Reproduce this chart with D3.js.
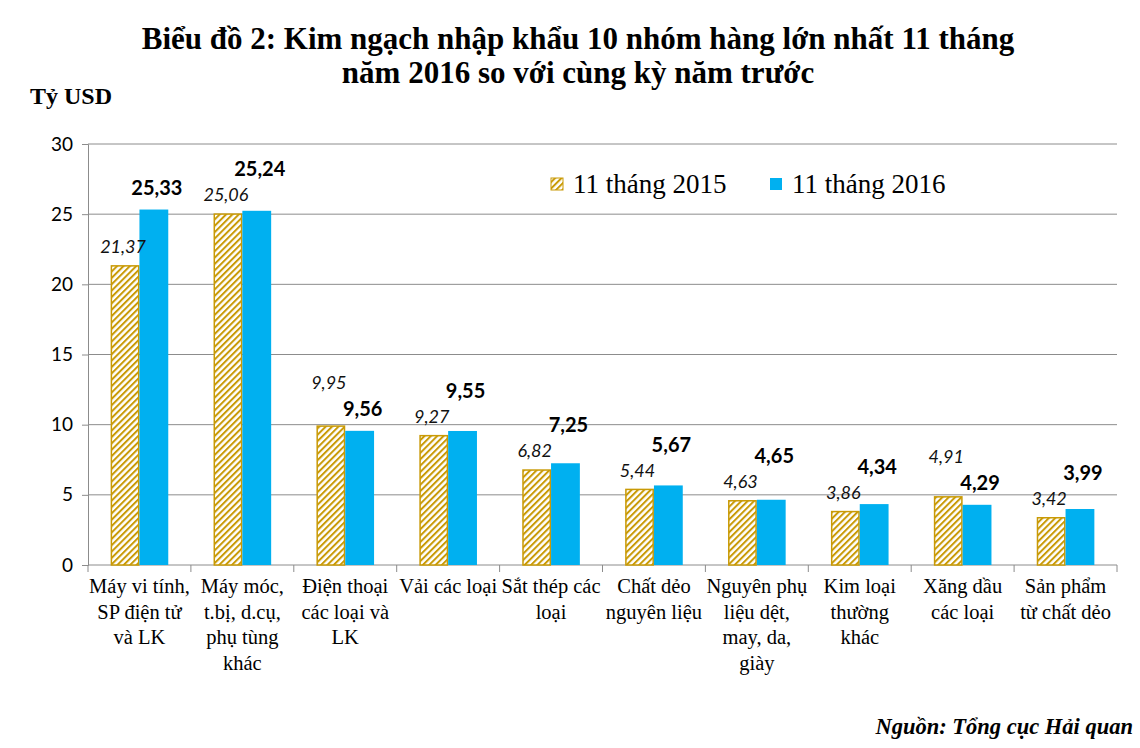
<!DOCTYPE html>
<html><head><meta charset="utf-8">
<script src="https://cdn.jsdelivr.net/npm/d3@7"></script>
<style>body{margin:0;background:#fff}svg{display:block}</style>
</head><body><svg id="c" width="1140" height="748"></svg>
<script>
const categories = [
  "Máy vi tính,|SP điện tử|và LK",
  "Máy móc,|t.bị, d.cụ,|phụ tùng|khác",
  "Điện thoại|các loại và|LK",
  "Vải các loại",
  "Sắt thép các|loại",
  "Chất dẻo|nguyên liệu",
  "Nguyên phụ|liệu dệt,|may, da,|giày",
  "Kim loại|thường|khác",
  "Xăng dầu|các loại",
  "Sản phẩm|từ chất dẻo"
];
const values2015 = [21.37, 25.06, 9.95, 9.27, 6.82, 5.44, 4.63, 3.86, 4.91, 3.42];
const values2016 = [25.33, 25.24, 9.56, 9.55, 7.25, 5.67, 4.65, 4.34, 4.29, 3.99];
const seriesNames = ["11 tháng 2015", "11 tháng 2016"];
const yTicks = [0, 5, 10, 15, 20, 25, 30];
const titleLines = ["Biểu đồ 2: Kim ngạch nhập khẩu 10 nhóm hàng lớn nhất 11 tháng", "năm 2016 so với cùng kỳ năm trước"];
const unitLabel = "Tỷ USD";
const sourceLabel = "Nguồn: Tổng cục Hải quan";

const svg = d3.select("#c");
const serif = "'Liberation Serif','Times New Roman',serif";
const sans = "Lato,'Open Sans','Liberation Sans',sans-serif";
const gold = "#C99A06", blue = "#00B0F0", grid = "#8C8C8C";

const defs = svg.append("defs");
const pat = defs.append("pattern").attr("id","hatch").attr("patternUnits","userSpaceOnUse")
  .attr("width",4.5).attr("height",4.5).attr("patternTransform","rotate(45)");
pat.append("rect").attr("width",4.5).attr("height",4.5).attr("fill","#fff");
pat.append("rect").attr("x",0).attr("width",2).attr("height",4.5).attr("fill",gold);

const x = d3.scaleBand().domain(d3.range(categories.length)).range([88,1117]).paddingInner(0.44).paddingOuter(0.22);
const y = d3.scaleLinear().domain([0,30]).range([565,144]);

// title
svg.append("g").selectAll("text").data(titleLines).join("text")
  .attr("x",578).attr("y",(d,i)=>49+i*34).attr("text-anchor","middle")
  .attr("font-family",serif).attr("font-weight","bold").attr("font-size",31).text(d=>d);
svg.append("text").attr("x",30).attr("y",104).attr("font-family",serif).attr("font-weight","bold")
  .attr("font-size",24).text(unitLabel);

// gridlines
svg.append("g").selectAll("line").data(yTicks.filter(t=>t>0)).join("line")
  .attr("x1",88).attr("x2",1117).attr("y1",d=>y(d)).attr("y2",d=>y(d))
  .attr("stroke",grid).attr("stroke-width",1);

// y axis
const ya = svg.append("g").attr("transform","translate(88,0)")
  .call(d3.axisLeft(y).tickValues(yTicks).tickSize(6).tickPadding(9).tickFormat(d3.format("d")));
ya.select(".domain").attr("stroke",grid);
ya.selectAll(".tick line").attr("stroke",grid);
ya.selectAll(".tick text").attr("font-family",sans).attr("font-size",19).attr("fill","#000");

// x axis
const xa = svg.append("g").attr("transform","translate(0,565)");
xa.append("line").attr("x1",88).attr("x2",1117).attr("stroke",grid);
const bounds = d3.range(categories.length+1).map(i=>88+i*x.step());
xa.selectAll("line.t").data(bounds).join("line").attr("class","t")
  .attr("x1",d=>d).attr("x2",d=>d).attr("y1",0).attr("y2",7).attr("stroke",grid);
const lab = xa.selectAll("text.c").data(categories).join("text").attr("class","c")
  .attr("text-anchor","middle").attr("font-family",serif).attr("font-size",20.5)
  .attr("transform",(d,i)=>`translate(${x(i)+x.bandwidth()/2},28)`);
lab.selectAll("tspan").data(d=>d.split("|")).join("tspan").attr("x",0)
  .attr("dy",(d,i)=>i===0?0:25.5).text(d=>d);

// bars
const bw = x.bandwidth()/2;
const g = svg.append("g");
g.selectAll("rect.a").data(values2015).join("rect").attr("class","a")
  .attr("x",(d,i)=>x(i)+0.75).attr("width",bw-1.5).attr("y",d=>y(d)+0.75).attr("height",d=>y(0)-y(d)-0.75)
  .attr("fill","url(#hatch)").attr("stroke",gold).attr("stroke-width",1.5);
g.selectAll("rect.b").data(values2016).join("rect").attr("class","b")
  .attr("x",(d,i)=>x(i)+bw).attr("width",bw).attr("y",d=>y(d)).attr("height",d=>y(0)-y(d))
  .attr("fill",blue);

// label placement: lower label sits just above its bar, higher label is lifted above it
const labelPos = values2015.map((v15,i)=>{
  const v16 = values2016[i];
  let c15 = y(v15)-18, c16 = y(v16)-22;
  if (v16 >= v15) c16 = Math.min(c16, c15-26); else c15 = Math.min(c15, c16-26);
  return {c15, c16};
});
const fmt = v=>v.toFixed(2).replace(".",",");
svg.append("g").selectAll("text").data(values2015).join("text")
  .attr("x",(d,i)=>x(i)+bw/2-2).attr("y",(d,i)=>labelPos[i].c15+6).attr("text-anchor","middle")
  .attr("font-family",sans).attr("font-style","italic").attr("font-size",18).attr("fill","#111").text(fmt);
svg.append("g").selectAll("text").data(values2016).join("text")
  .attr("x",(d,i)=>x(i)+bw*1.5+3).attr("y",(d,i)=>labelPos[i].c16+7).attr("text-anchor","middle")
  .attr("font-family",sans).attr("font-weight","bold").attr("font-size",20).attr("fill","#000").text(fmt);

// legend
const leg = svg.append("g");
const lx = [551, 770];
leg.selectAll("rect").data(seriesNames).join("rect")
  .attr("x",(d,i)=>lx[i]).attr("y",178).attr("width",12).attr("height",12)
  .attr("fill",(d,i)=>i===0?"url(#hatch)":blue).attr("stroke",(d,i)=>i===0?gold:"none").attr("stroke-width",1);
leg.selectAll("text").data(seriesNames).join("text")
  .attr("x",(d,i)=>lx[i]+22).attr("y",193).attr("font-family",serif).attr("font-size",27).text(d=>d);

svg.append("text").attr("x",1133).attr("y",734).attr("text-anchor","end")
  .attr("font-family",serif).attr("font-weight","bold").attr("font-style","italic").attr("font-size",22.5).text(sourceLabel);
</script></body></html>
